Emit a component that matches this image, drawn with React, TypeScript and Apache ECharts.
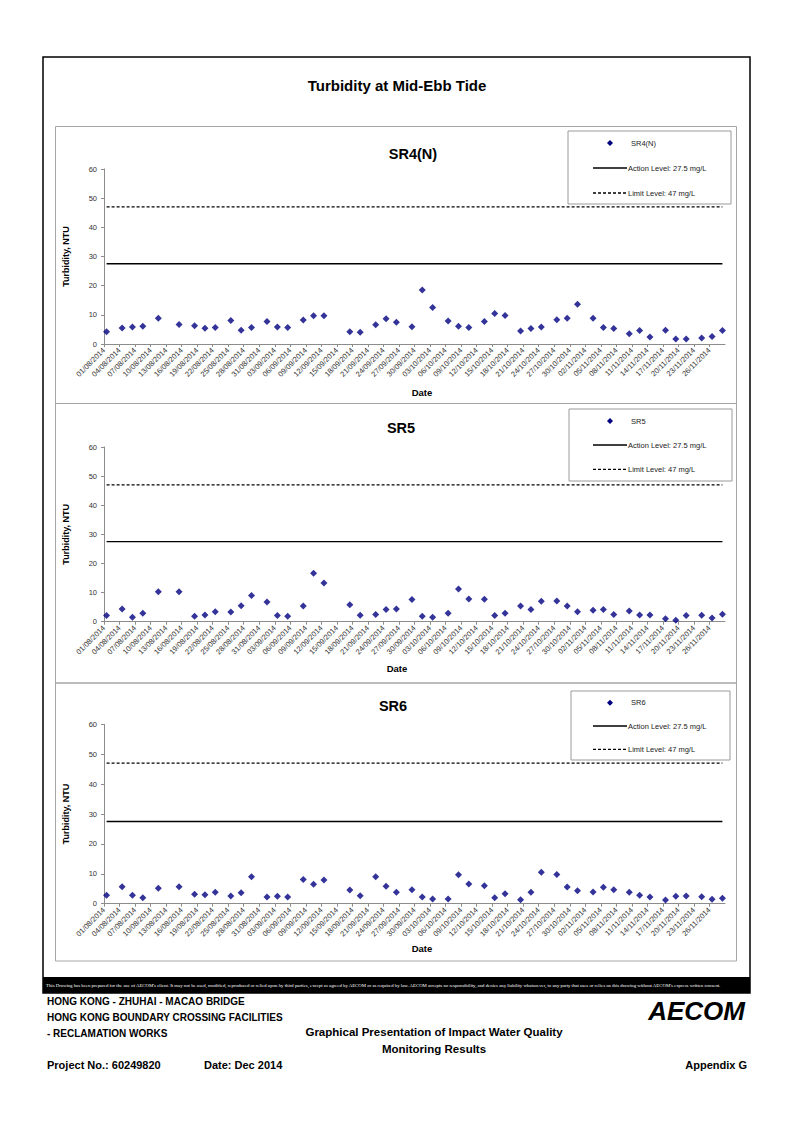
import React, { useEffect, useRef } from "react";
import * as echarts from "echarts";

// ---------- DATA ----------
const AXIS_START = "01/08/2014";
const AXIS_END = "29/11/2014";
const TICK_STEP_DAYS = 3;

const DATES = [
  "01/08/2014", "04/08/2014", "06/08/2014", "08/08/2014", "11/08/2014", "15/08/2014",
  "18/08/2014", "20/08/2014", "22/08/2014", "25/08/2014", "27/08/2014", "29/08/2014",
  "01/09/2014", "03/09/2014", "05/09/2014", "08/09/2014", "10/09/2014", "12/09/2014",
  "17/09/2014", "19/09/2014", "22/09/2014", "24/09/2014", "26/09/2014", "29/09/2014",
  "01/10/2014", "03/10/2014", "06/10/2014", "08/10/2014", "10/10/2014", "13/10/2014",
  "15/10/2014", "17/10/2014", "20/10/2014", "22/10/2014", "24/10/2014", "27/10/2014",
  "29/10/2014", "31/10/2014", "03/11/2014", "05/11/2014", "07/11/2014", "10/11/2014",
  "12/11/2014", "14/11/2014", "17/11/2014", "19/11/2014", "21/11/2014", "24/11/2014",
  "26/11/2014", "28/11/2014",
];

const SR4N = [
  4.2, 5.5, 5.8, 6.1, 8.8, 6.7, 6.3, 5.4, 5.7, 8.1, 4.7, 5.7,
  7.7, 5.8, 5.7, 8.2, 9.7, 9.7, 4.2, 4.0, 6.6, 8.7, 7.5, 5.9,
  18.5, 12.5, 7.9, 6.1, 5.7, 7.7, 10.5, 9.8, 4.5, 5.3, 5.8, 8.3,
  8.8, 13.6, 8.8, 5.7, 5.3, 3.5, 4.6, 2.4, 4.7, 1.7, 1.7, 2.1,
  2.6, 4.6,
];
const SR5 = [
  2.1, 4.4, 1.5, 2.9, 10.3, 10.3, 1.9, 2.3, 3.4, 3.3, 5.5, 9.0,
  6.8, 2.1, 1.9, 5.4, 16.6, 13.3, 5.8, 2.2, 2.5, 4.2, 4.4, 7.6,
  1.9, 1.5, 2.9, 11.2, 7.8, 7.7, 2.1, 2.9, 5.4, 4.2, 7.0, 7.1,
  5.4, 3.4, 3.9, 4.2, 2.5, 3.7, 2.3, 2.3, 1.0, 0.5, 2.1, 2.2,
  1.3, 2.6,
];
const SR6 = [
  2.8, 5.7, 2.8, 2.0, 5.2, 5.7, 3.2, 3.0, 3.8, 2.6, 3.7, 9.0,
  2.2, 2.5, 2.2, 8.1, 6.5, 7.9, 4.6, 2.7, 9.0, 5.8, 3.8, 4.7,
  2.2, 1.6, 1.6, 9.7, 6.6, 6.0, 2.0, 3.3, 1.3, 3.8, 10.5, 9.8,
  5.6, 4.3, 3.9, 5.5, 4.7, 3.8, 2.8, 2.2, 1.2, 2.5, 2.6, 2.3,
  1.5, 1.8,
];

const STATIONS = ["SR4(N)", "SR5", "SR6"];
const STATION_VALUES = [SR4N, SR5, SR6];
const ACTION_LEVEL = 27.5;
const LIMIT_LEVEL = 47;
const ACTION_NAME = "Action Level: 27.5 mg/L";
const LIMIT_NAME = "Limit Level: 47 mg/L";
const Y_MIN = 0;
const Y_MAX = 60;
const Y_STEP = 10;

const MAIN_TITLE = "Turbidity at Mid-Ebb Tide";
const Y_TITLE = "Turbidity, NTU";
const X_TITLE = "Date";
const DISCLAIMER =
  "This Drawing has been prepared for the use of AECOM's client. It may not be used, modified, reproduced or relied upon by third parties, except as agreed by AECOM or as required by law. AECOM accepts no responsibility, and denies any liability whatsoever, to any party that uses or relies on this drawing without AECOM's express written consent.";

// ---------- HELPERS ----------
const DAY_MS = 86400000;
function parseDate(s: string) {
  const [d, m, y] = s.split("/").map(Number);
  return Date.UTC(y, m - 1, d);
}
const START_MS = parseDate(AXIS_START);
const dayIndex = (s: string) => (parseDate(s) - START_MS) / DAY_MS;
const AXIS_DAYS = dayIndex(AXIS_END);
const pad2 = (n: number) => (n < 10 ? "0" + n : "" + n);
function fmtDay(v: number) {
  if (v >= AXIS_DAYS) return "";
  const dt = new Date(START_MS + v * DAY_MS);
  return pad2(dt.getUTCDate()) + "/" + pad2(dt.getUTCMonth() + 1) + "/" + dt.getUTCFullYear();
}
// Excel date axis places each day's point in the middle of that day's band
const dayCentre = (s: string) => dayIndex(s) + 0.5;

const FONT = "Liberation Sans";
const MARK_COLOR = "#000080";

// ---------- LAYOUT ----------
const GRIDS = [
  { left: 104, top: 169, width: 621, height: 175 },
  { left: 104, top: 447, width: 621, height: 174.7 },
  { left: 104, top: 724.3, width: 621, height: 179.4 },
];
const TITLE_POS = [
  { x: 413, y: 146 },
  { x: 401, y: 420 },
  { x: 393, y: 698 },
];
const X_NAME = [
  { gap: 43, shift: 15 },
  { gap: 42, shift: -35 },
  { gap: 40, shift: 15 },
];
const LEGEND_ROWS = [
  [143, 168, 193],
  [421, 445, 469.3],
  [702.7, 726, 749.3],
];
const LEGEND_BOX = [
  { x: 568, y: 131, w: 163, h: 73 },
  { x: 569, y: 409, w: 163, h: 72 },
  { x: 571, y: 691, w: 159, h: 69 },
];
const PANELS = [
  { y: 126.5, h: 277 },
  { y: 403.5, h: 279.5 },
  { y: 683, h: 278 },
];

function buildOption() {
  const grid = GRIDS.map((g) => ({ ...g, containLabel: false }));
  const xAxis = GRIDS.map((_, i) => ({
    type: "value",
    gridIndex: i,
    min: 0,
    max: AXIS_DAYS,
    interval: TICK_STEP_DAYS,
    name: X_TITLE,
    nameLocation: "middle",
    nameGap: X_NAME[i].gap,
    nameTextStyle: {
      fontFamily: FONT,
      fontWeight: "bold",
      fontSize: 9.5,
      color: "#000",
      padding: X_NAME[i].shift >= 0 ? [0, 0, 0, X_NAME[i].shift] : [0, -X_NAME[i].shift, 0, 0],
    },
    axisLine: { show: true, lineStyle: { color: "#8c8c8c", width: 1 } },
    axisTick: { show: true, length: 3, lineStyle: { color: "#8c8c8c" } },
    splitLine: { show: false },
    axisLabel: {
      rotate: 45,
      fontSize: 7.5,
      fontFamily: FONT,
      color: "#333",
      margin: 5,
      showMaxLabel: false,
      formatter: (v: number) => fmtDay(v),
    },
  }));
  const yAxis = GRIDS.map((_, i) => ({
    type: "value",
    gridIndex: i,
    min: Y_MIN,
    max: Y_MAX,
    interval: Y_STEP,
    name: Y_TITLE,
    nameLocation: "middle",
    nameGap: 34,
    nameRotate: 90,
    nameTextStyle: { fontFamily: FONT, fontWeight: "bold", fontSize: 9, color: "#000" },
    axisLine: { show: true, lineStyle: { color: "#8c8c8c", width: 1 } },
    axisTick: { show: true, length: 3, lineStyle: { color: "#8c8c8c" } },
    splitLine: { show: false },
    axisLabel: { fontSize: 7.5, fontFamily: FONT, color: "#333", margin: 7 },
  }));

  const series: any[] = [];
  STATIONS.forEach((name, i) => {
    const vals = STATION_VALUES[i];
    series.push({
      type: "scatter",
      name,
      xAxisIndex: i,
      yAxisIndex: i,
      symbol: "diamond",
      symbolSize: 7,
      itemStyle: { color: MARK_COLOR },
      data: DATES.map((d, j) => [dayCentre(d), vals[j]]),
    });
    const first = dayCentre(DATES[0]);
    const last = dayCentre(DATES[DATES.length - 1]);
    series.push({
      type: "line",
      name: ACTION_NAME,
      xAxisIndex: i,
      yAxisIndex: i,
      symbol: "none",
      itemStyle: { color: "#000" },
      lineStyle: { color: "#000", width: 1.4, type: "solid" },
      data: [
        [first, ACTION_LEVEL],
        [last, ACTION_LEVEL],
      ],
    });
    series.push({
      type: "line",
      name: LIMIT_NAME,
      xAxisIndex: i,
      yAxisIndex: i,
      symbol: "none",
      itemStyle: { color: "#000" },
      lineStyle: { color: "#000", width: 1.3, type: [3, 2] },
      data: [
        [first, LIMIT_LEVEL],
        [last, LIMIT_LEVEL],
      ],
    });
  });

  const title = STATIONS.map((name, i) => ({
    text: name,
    left: TITLE_POS[i].x,
    top: TITLE_POS[i].y,
    textAlign: "center",
    padding: 0,
    textStyle: { fontFamily: FONT, fontWeight: "bold", fontSize: 14.5, color: "#000" },
  }));

  const txt = (text: string, x: number, y: number, size: number, extra: any = {}) => ({
    type: "text",
    x,
    y,
    silent: true,
    style: {
      text,
      fontFamily: FONT,
      fontSize: size,
      fontWeight: "bold",
      fill: "#000",
      textVerticalAlign: "middle",
      ...extra,
    },
  });

  // legend boxes drawn as graphics (Excel-style)
  const legendEls: any[] = [];
  STATIONS.forEach((name, i) => {
    const b = LEGEND_BOX[i];
    const r = LEGEND_ROWS[i];
    legendEls.push({
      type: "rect",
      shape: { x: b.x, y: b.y, width: b.w, height: b.h },
      style: { fill: "#fff", stroke: "#9a9a9a", lineWidth: 1 },
      silent: true,
    });
    legendEls.push({
      type: "polygon",
      shape: { points: [[610, r[0] - 3], [613, r[0]], [610, r[0] + 3], [607, r[0]]] },
      style: { fill: MARK_COLOR },
      silent: true,
    });
    legendEls.push(txt(name, 631, r[0], 7.5, { fontWeight: "normal", fill: "#222" }));
    legendEls.push({
      type: "line",
      shape: { x1: 593, y1: r[1], x2: 627, y2: r[1] },
      style: { stroke: "#000", lineWidth: 1.4 },
      silent: true,
    });
    legendEls.push(txt(ACTION_NAME, 628, r[1], 7.5, { fontWeight: "normal", fill: "#222" }));
    legendEls.push({
      type: "line",
      shape: { x1: 593, y1: r[2], x2: 627, y2: r[2] },
      style: { stroke: "#000", lineWidth: 1.3, lineDash: [3, 2] },
      silent: true,
    });
    legendEls.push(txt(LIMIT_NAME, 628, r[2], 7.5, { fontWeight: "normal", fill: "#222" }));
  });

  const graphic: any[] = [
    {
      type: "rect",
      shape: { x: 43, y: 57, width: 707, height: 936 },
      style: { fill: "none", stroke: "#000", lineWidth: 1.5 },
      silent: true,
    },
    ...PANELS.map((p) => ({
      type: "rect",
      shape: { x: 55.5, y: p.y, width: 681, height: p.h },
      style: { fill: "none", stroke: "#a6a6a6", lineWidth: 1 },
      silent: true,
    })),
    ...legendEls,
    {
      type: "rect",
      shape: { x: 43, y: 977, width: 707, height: 16 },
      style: { fill: "#000" },
      silent: true,
    },
    txt(DISCLAIMER, 46, 985, 4.8, {
      fill: "#fff",
      fontWeight: "normal",
      fontFamily: "Liberation Sans Narrow",
    }),
    txt(MAIN_TITLE, 397, 85, 15, { textAlign: "center" }),
    txt("HONG KONG - ZHUHAI - MACAO BRIDGE", 47, 1001, 10),
    txt("HONG KONG BOUNDARY CROSSING FACILITIES", 47, 1017, 10),
    txt("- RECLAMATION WORKS", 47, 1033, 10),
    txt("Graphical Presentation of Impact Water Quality", 434, 1032, 11.5, { textAlign: "center" }),
    txt("Monitoring Results", 434, 1049, 11.5, { textAlign: "center" }),
    txt("Project No.: 60249820", 47, 1065, 11),
    txt("Date: Dec 2014", 204, 1065, 11),
    txt("Appendix G", 747, 1065, 11, { textAlign: "right" }),
    txt("AECOM", 745, 1011, 26, {
      textAlign: "right",
      fontStyle: "italic",
      fontWeight: 900,
      fontFamily: "Liberation Sans",
    }),
  ];

  return {
    animation: false,
    backgroundColor: "#fff",
    textStyle: { fontFamily: FONT },
    title,
    grid,
    xAxis,
    yAxis,
    series,
    graphic,
  };
}

export default function App() {
  const ref = useRef<HTMLDivElement>(null);
  useEffect(() => {
    if (!ref.current) return;
    const chart = echarts.init(ref.current, undefined, { renderer: "svg" });
    chart.setOption(buildOption() as any);
    return () => chart.dispose();
  }, []);
  return (
    <div
      ref={ref}
      style={{ position: "absolute", left: 0, top: 0, width: 794, height: 1122, background: "#fff" }}
    />
  );
}
